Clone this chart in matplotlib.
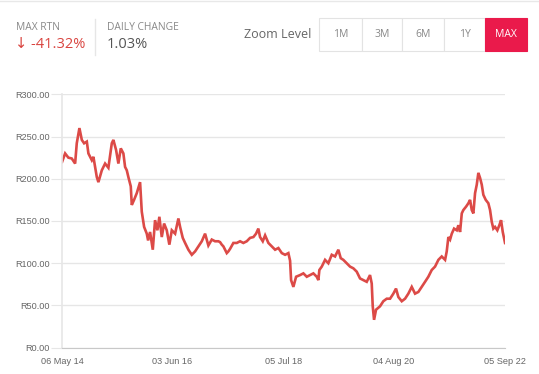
import numpy as np
import pandas as pd
import matplotlib
matplotlib.use("Agg")
from matplotlib import pyplot as plt
from matplotlib.patches import Rectangle

# ------------------------------------------------------------
# price series (time as decimal year)
years = [
    2014.344, 2014.401, 2014.462, 2014.526, 2014.589, 2014.620, 2014.670, 2014.715,
    2014.758, 2014.809, 2014.839, 2014.903, 2014.933, 2014.997, 2015.027, 2015.091,
    2015.153, 2015.215, 2015.279, 2015.309, 2015.360, 2015.403, 2015.448, 2015.497,
    2015.529, 2015.561, 2015.591, 2015.636, 2015.655, 2015.698, 2015.749, 2015.811,
    2015.843, 2015.887, 2015.937, 2015.962, 2015.999, 2016.050, 2016.093, 2016.137,
    2016.174, 2016.219, 2016.263, 2016.313, 2016.362, 2016.408, 2016.470, 2016.532,
    2016.564, 2016.614, 2016.658, 2016.720, 2016.784, 2016.846, 2016.908, 2016.972,
    2017.034, 2017.096, 2017.160, 2017.222, 2017.284, 2017.316, 2017.348, 2017.378,
    2017.410, 2017.442, 2017.472, 2017.504, 2017.566, 2017.630, 2017.692, 2017.754,
    2017.818, 2017.880, 2017.943, 2017.993, 2018.036, 2018.068, 2018.119, 2018.163,
    2018.225, 2018.289, 2018.351, 2018.413, 2018.477, 2018.539, 2018.601, 2018.633,
    2018.652, 2018.695, 2018.746, 2018.821, 2018.883, 2018.947, 2019.009, 2019.071,
    2019.135, 2019.165, 2019.184, 2019.229, 2019.291, 2019.353, 2019.417, 2019.479,
    2019.541, 2019.586, 2019.635, 2019.699, 2019.761, 2019.823, 2019.887, 2019.949,
    2020.011, 2020.075, 2020.137, 2020.169, 2020.188, 2020.213, 2020.250, 2020.325,
    2020.387, 2020.451, 2020.514, 2020.576, 2020.626, 2020.670, 2020.734, 2020.796,
    2020.858, 2020.922, 2020.984, 2021.046, 2021.110, 2021.172, 2021.234, 2021.298,
    2021.360, 2021.423, 2021.486, 2021.549, 2021.580, 2021.611, 2021.643, 2021.675,
    2021.718, 2021.769, 2021.799, 2021.831, 2021.863, 2021.893, 2021.944, 2021.987,
    2022.019, 2022.051, 2022.081, 2022.113, 2022.145, 2022.175, 2022.207, 2022.239,
    2022.269, 2022.314, 2022.363, 2022.395, 2022.427, 2022.457, 2022.489, 2022.532,
    2022.570, 2022.602, 2022.634, 2022.664, 2022.677,
]
prices = [
    220, 230, 225, 224, 218, 242, 260, 246,
    242, 244, 230, 222, 226, 202, 196, 210,
    218, 213, 242, 246, 234, 218, 236, 230,
    214, 210, 202, 191, 169, 175, 183, 196,
    161, 143, 135, 127, 137, 116, 151, 139,
    155, 131, 147, 139, 122, 139, 135, 153,
    143, 130, 124, 116, 110, 114, 120, 126,
    135, 121, 128, 126, 126, 125, 122, 120,
    116, 112, 114, 117, 124, 124, 126, 124,
    126, 130, 131, 135, 141, 131, 126, 133,
    124, 120, 116, 118, 112, 110, 112, 103,
    80, 72, 84, 86, 88, 84, 86, 88,
    84, 80, 92, 96, 104, 100, 110, 108,
    116, 106, 104, 100, 96, 94, 90, 82,
    80, 78, 86, 76, 49, 33, 45, 49,
    55, 58, 58, 64, 70, 60, 55, 58,
    64, 72, 64, 66, 72, 78, 84, 92,
    96, 104, 108, 104, 114, 131, 128, 135,
    141, 139, 145, 137, 159, 163, 167, 171,
    175, 163, 159, 183, 193, 207, 201, 193,
    181, 175, 171, 163, 149, 141, 143, 139,
    145, 151, 137, 128, 124,
]

tick_dates = ["2014-05-06", "2016-06-03", "2018-07-05", "2020-08-04", "2022-09-05"]
tick_labels = ["06 May 14", "03 Jun 16", "05 Jul 18", "04 Aug 20", "05 Sep 22"]
y_ticks = [0, 50, 100, 150, 200, 250, 300]

zoom_buttons = ["1M", "3M", "6M", "1Y", "MAX"]

yr = np.array(years)
dates = pd.Timestamp("2014-01-01") + pd.to_timedelta((yr - 2014) * 365.25, unit="D")

# ------------------------------------------------------------
W, H = 539, 374
fig = plt.figure(figsize=(W / 100, H / 100), dpi=100)
fig.patch.set_facecolor("white")

ax = fig.add_axes([62 / W, 1 - 347.7 / H, (505 - 62) / W, (347.7 - 94.3) / H])
ax.plot(dates, prices, color="#dc4a47", lw=1.9, solid_joinstyle="miter")

ax.set_ylim(0, 300)
ax.set_xlim(pd.Timestamp(tick_dates[0]), pd.Timestamp(tick_dates[-1]))
ax.set_yticks(y_ticks)
ax.set_yticklabels(["R%.2f" % v for v in y_ticks])
ax.set_xticks(pd.to_datetime(tick_dates))
ax.set_xticklabels(tick_labels)

ax.grid(axis="y", color="#e6e6e6", lw=1)
ax.set_axisbelow(True)
for s in ["top", "right"]:
    ax.spines[s].set_visible(False)
ax.spines["left"].set_color("#e6e6e6")
ax.spines["left"].set_linewidth(1.2)
ax.spines["bottom"].set_color("#c8c8c8")
ax.tick_params(axis="y", length=8, color="#e6e6e6", labelsize=6.6, labelcolor="#666666", pad=1)
ax.tick_params(axis="x", length=0, labelsize=6.6, labelcolor="#666666", pad=7)
for lab in ax.get_xticklabels() + ax.get_yticklabels():
    lab.set_family("Liberation Sans")

# ------------------------------------------------------------
# header
hdr = "Open Sans"
fig.add_artist(plt.Line2D([0, 1], [1 - 1 / H, 1 - 1 / H], color="#e8e8e8", lw=1))
fig.text(16 / W, 1 - 28 / H, "MAX RTN", fontsize=7.4, color="#888888", family=hdr, va="center")
fig.text(15 / W, 1 - 45 / H, "\u2193 -41.32%", fontsize=10.5, color="#d9443f",
         family=["Open Sans", "DejaVu Sans"], va="center")
fig.add_artist(plt.Line2D([95 / W, 95 / W], [1 - 19 / H, 1 - 55 / H], color="#e6e6e6", lw=1))
fig.text(107 / W, 1 - 28 / H, "DAILY CHANGE", fontsize=7.4, color="#888888", family=hdr, va="center")
fig.text(107 / W, 1 - 45 / H, "1.03%", fontsize=10.5, color="#555555", family=hdr, va="center")
fig.text(244 / W, 1 - 34 / H, "Zoom Level", fontsize=9, color="#666666", family=hdr, va="center")

edges = [319.3, 361.7, 402.3, 444, 485, 526.7]
top, bot = 18.3, 50.7
for i, name in enumerate(zoom_buttons):
    x0, x1 = edges[i], edges[i + 1]
    active = name == "MAX"
    fig.add_artist(Rectangle((x0 / W, 1 - bot / H), (x1 - x0) / W, (bot - top) / H,
                             facecolor="#ea1a4b" if active else "white",
                             edgecolor="#ea1a4b" if active else "#e3e3e3", lw=0.8))
    fig.text((x0 + x1) / 2 / W, 1 - 34.5 / H, name, fontsize=7.5,
             color="white" if active else "#888888", family=hdr, ha="center", va="center")

fig.savefig("out.png", dpi=100)
